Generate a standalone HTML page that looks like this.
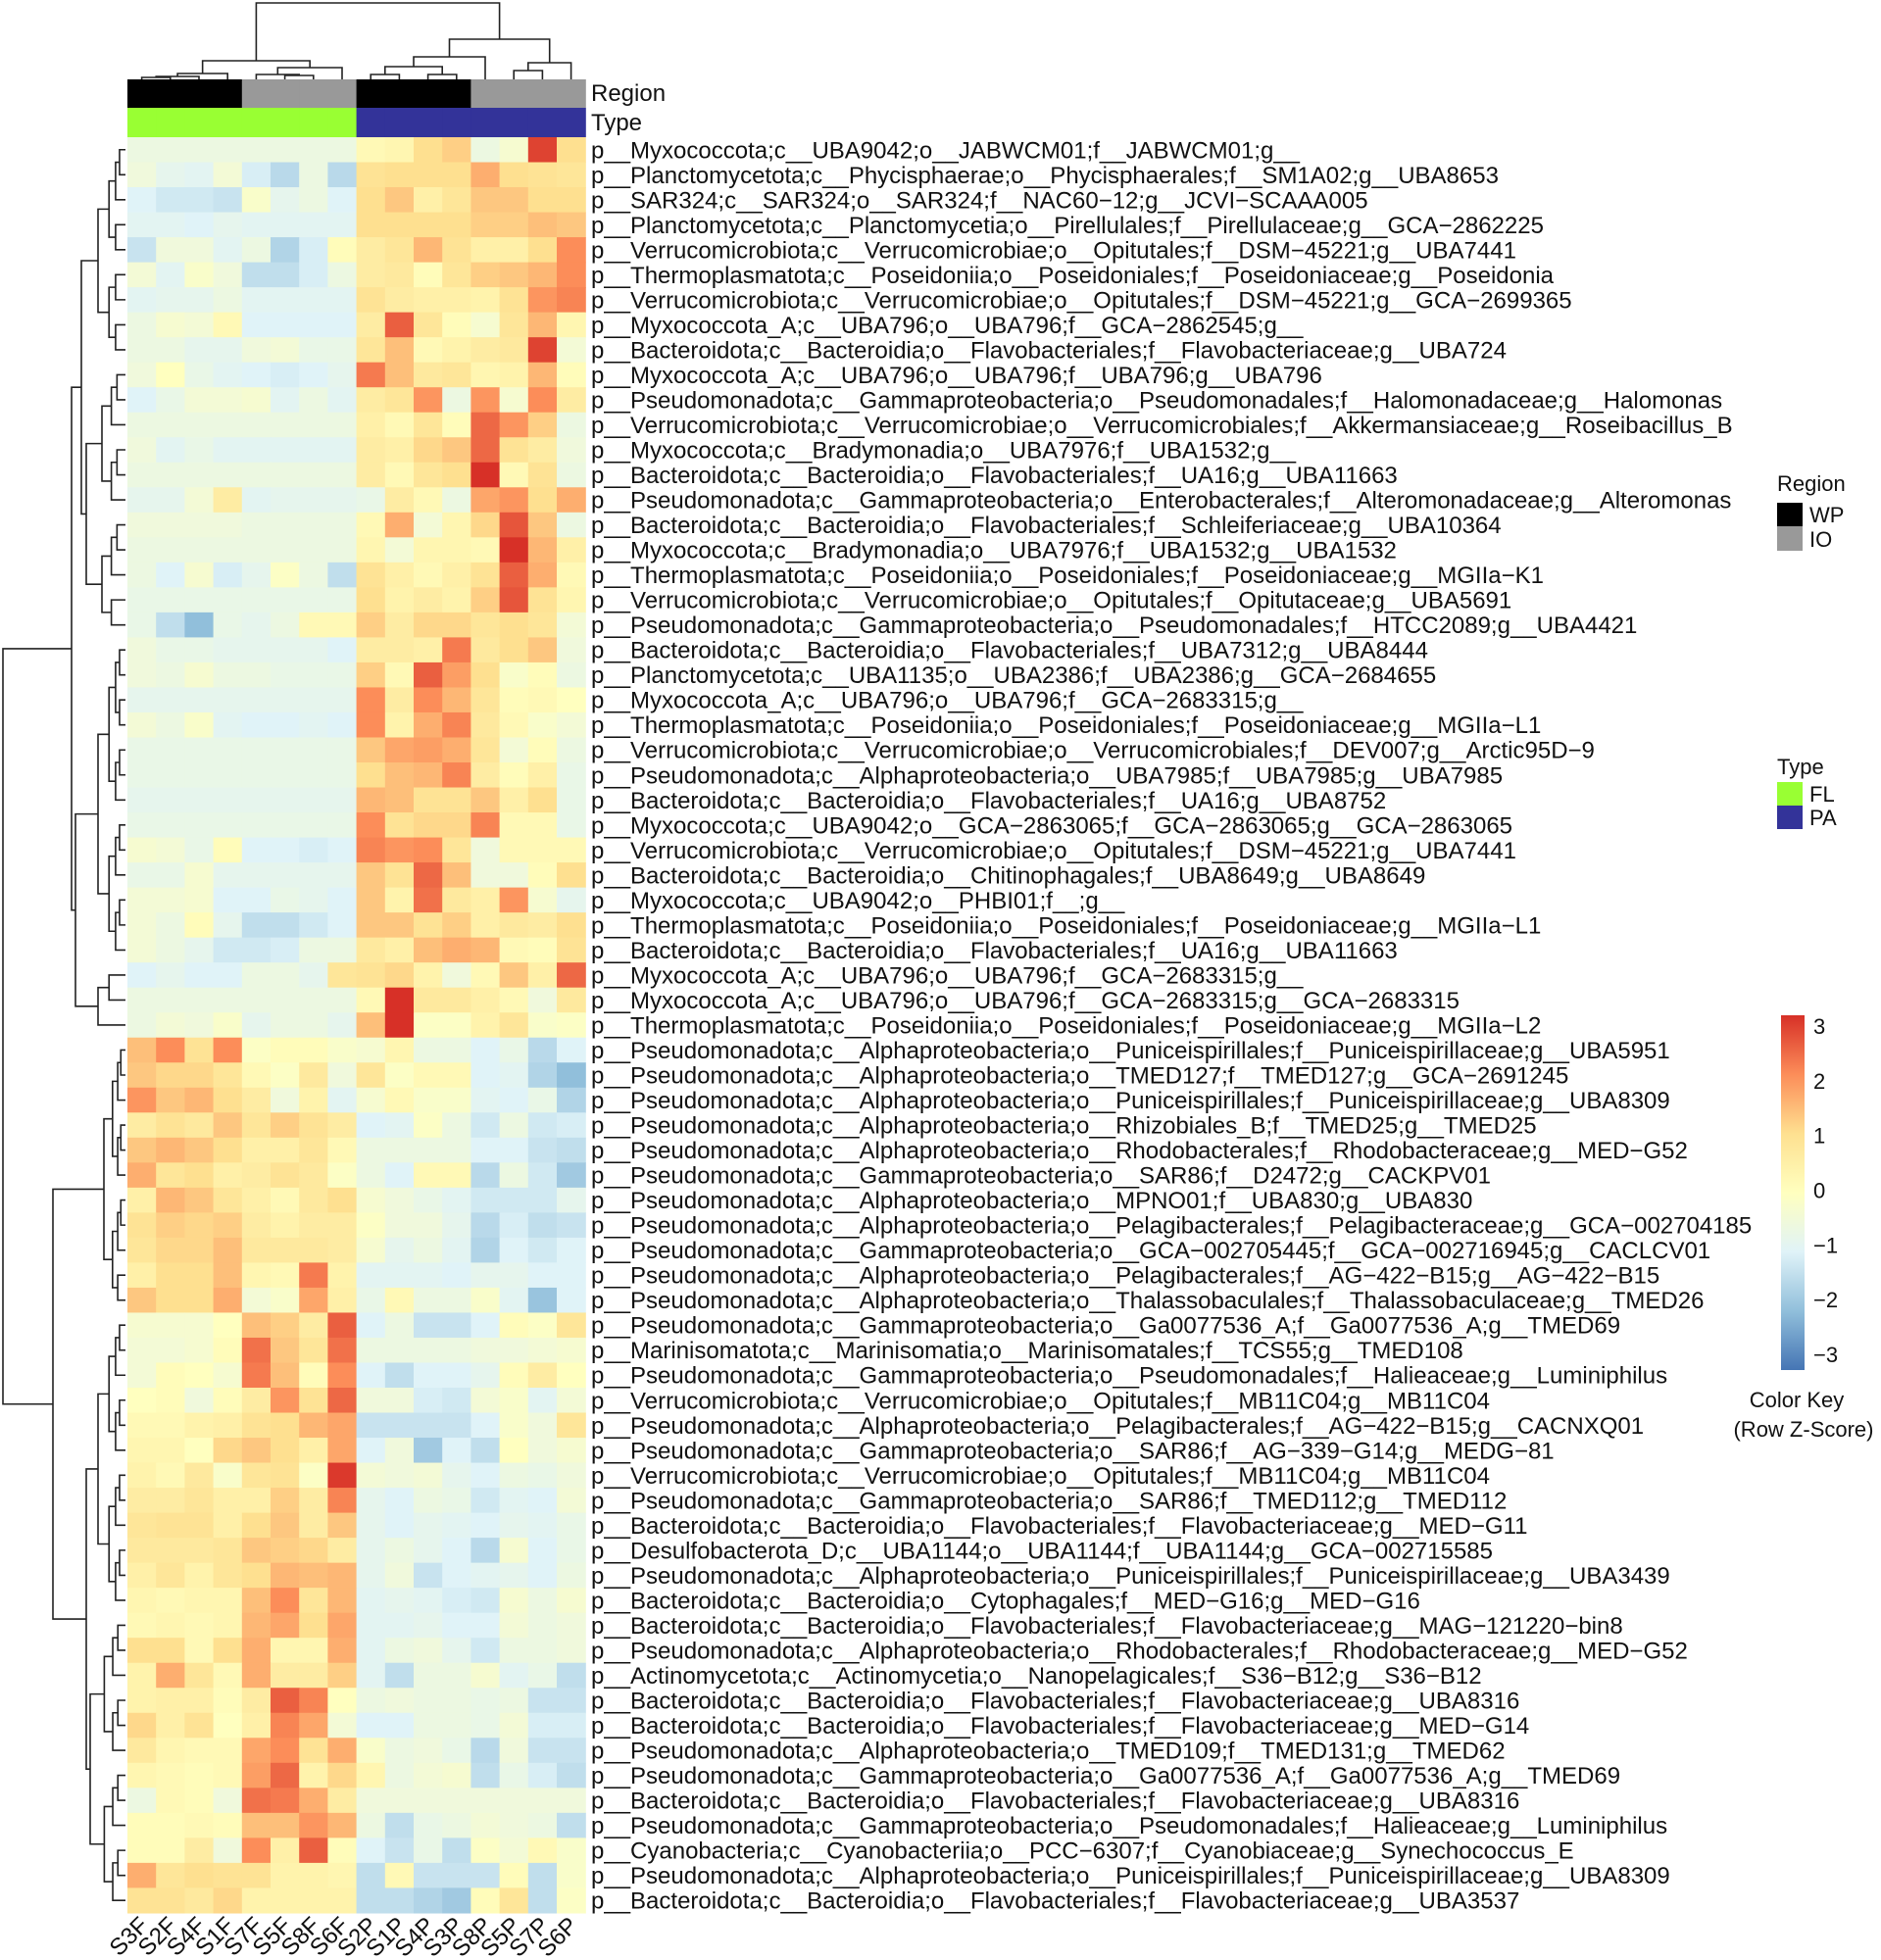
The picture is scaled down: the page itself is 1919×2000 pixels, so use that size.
<!DOCTYPE html>
<html><head><meta charset="utf-8"><style>
html,body{margin:0;padding:0;background:#fff;}
svg{display:block;font-family:"Liberation Sans",Arial,sans-serif;}
</style></head><body>
<svg id="chart" width="1919" height="2000" viewBox="0 0 1919 2000" xmlns="http://www.w3.org/2000/svg">
<g id="cells"></g>
<g id="annot"></g>
<g id="rowlabels"></g>
<g id="collabels"></g>
<g id="dendro" stroke="#222" stroke-width="1.6" fill="none"></g>
<g id="legend"></g>
</svg>
<script>
const columns=["S3F","S2F","S4F","S1F","S7F","S5F","S8F","S6F","S2P","S1P","S4P","S3P","S8P","S5P","S7P","S6P"];
const regions=["WP","WP","WP","WP","IO","IO","IO","IO","WP","WP","WP","WP","IO","IO","IO","IO"];
const types=["FL","FL","FL","FL","FL","FL","FL","FL","PA","PA","PA","PA","PA","PA","PA","PA"];
const rowLabels=[
"p__Myxococcota;c__UBA9042;o__JABWCM01;f__JABWCM01;g__",
"p__Planctomycetota;c__Phycisphaerae;o__Phycisphaerales;f__SM1A02;g__UBA8653",
"p__SAR324;c__SAR324;o__SAR324;f__NAC60−12;g__JCVI−SCAAA005",
"p__Planctomycetota;c__Planctomycetia;o__Pirellulales;f__Pirellulaceae;g__GCA−2862225",
"p__Verrucomicrobiota;c__Verrucomicrobiae;o__Opitutales;f__DSM−45221;g__UBA7441",
"p__Thermoplasmatota;c__Poseidoniia;o__Poseidoniales;f__Poseidoniaceae;g__Poseidonia",
"p__Verrucomicrobiota;c__Verrucomicrobiae;o__Opitutales;f__DSM−45221;g__GCA−2699365",
"p__Myxococcota_A;c__UBA796;o__UBA796;f__GCA−2862545;g__",
"p__Bacteroidota;c__Bacteroidia;o__Flavobacteriales;f__Flavobacteriaceae;g__UBA724",
"p__Myxococcota_A;c__UBA796;o__UBA796;f__UBA796;g__UBA796",
"p__Pseudomonadota;c__Gammaproteobacteria;o__Pseudomonadales;f__Halomonadaceae;g__Halomonas",
"p__Verrucomicrobiota;c__Verrucomicrobiae;o__Verrucomicrobiales;f__Akkermansiaceae;g__Roseibacillus_B",
"p__Myxococcota;c__Bradymonadia;o__UBA7976;f__UBA1532;g__",
"p__Bacteroidota;c__Bacteroidia;o__Flavobacteriales;f__UA16;g__UBA11663",
"p__Pseudomonadota;c__Gammaproteobacteria;o__Enterobacterales;f__Alteromonadaceae;g__Alteromonas",
"p__Bacteroidota;c__Bacteroidia;o__Flavobacteriales;f__Schleiferiaceae;g__UBA10364",
"p__Myxococcota;c__Bradymonadia;o__UBA7976;f__UBA1532;g__UBA1532",
"p__Thermoplasmatota;c__Poseidoniia;o__Poseidoniales;f__Poseidoniaceae;g__MGIIa−K1",
"p__Verrucomicrobiota;c__Verrucomicrobiae;o__Opitutales;f__Opitutaceae;g__UBA5691",
"p__Pseudomonadota;c__Gammaproteobacteria;o__Pseudomonadales;f__HTCC2089;g__UBA4421",
"p__Bacteroidota;c__Bacteroidia;o__Flavobacteriales;f__UBA7312;g__UBA8444",
"p__Planctomycetota;c__UBA1135;o__UBA2386;f__UBA2386;g__GCA−2684655",
"p__Myxococcota_A;c__UBA796;o__UBA796;f__GCA−2683315;g__",
"p__Thermoplasmatota;c__Poseidoniia;o__Poseidoniales;f__Poseidoniaceae;g__MGIIa−L1",
"p__Verrucomicrobiota;c__Verrucomicrobiae;o__Verrucomicrobiales;f__DEV007;g__Arctic95D−9",
"p__Pseudomonadota;c__Alphaproteobacteria;o__UBA7985;f__UBA7985;g__UBA7985",
"p__Bacteroidota;c__Bacteroidia;o__Flavobacteriales;f__UA16;g__UBA8752",
"p__Myxococcota;c__UBA9042;o__GCA−2863065;f__GCA−2863065;g__GCA−2863065",
"p__Verrucomicrobiota;c__Verrucomicrobiae;o__Opitutales;f__DSM−45221;g__UBA7441",
"p__Bacteroidota;c__Bacteroidia;o__Chitinophagales;f__UBA8649;g__UBA8649",
"p__Myxococcota;c__UBA9042;o__PHBI01;f__;g__",
"p__Thermoplasmatota;c__Poseidoniia;o__Poseidoniales;f__Poseidoniaceae;g__MGIIa−L1",
"p__Bacteroidota;c__Bacteroidia;o__Flavobacteriales;f__UA16;g__UBA11663",
"p__Myxococcota_A;c__UBA796;o__UBA796;f__GCA−2683315;g__",
"p__Myxococcota_A;c__UBA796;o__UBA796;f__GCA−2683315;g__GCA−2683315",
"p__Thermoplasmatota;c__Poseidoniia;o__Poseidoniales;f__Poseidoniaceae;g__MGIIa−L2",
"p__Pseudomonadota;c__Alphaproteobacteria;o__Puniceispirillales;f__Puniceispirillaceae;g__UBA5951",
"p__Pseudomonadota;c__Alphaproteobacteria;o__TMED127;f__TMED127;g__GCA−2691245",
"p__Pseudomonadota;c__Alphaproteobacteria;o__Puniceispirillales;f__Puniceispirillaceae;g__UBA8309",
"p__Pseudomonadota;c__Alphaproteobacteria;o__Rhizobiales_B;f__TMED25;g__TMED25",
"p__Pseudomonadota;c__Alphaproteobacteria;o__Rhodobacterales;f__Rhodobacteraceae;g__MED−G52",
"p__Pseudomonadota;c__Gammaproteobacteria;o__SAR86;f__D2472;g__CACKPV01",
"p__Pseudomonadota;c__Alphaproteobacteria;o__MPNO01;f__UBA830;g__UBA830",
"p__Pseudomonadota;c__Alphaproteobacteria;o__Pelagibacterales;f__Pelagibacteraceae;g__GCA−002704185",
"p__Pseudomonadota;c__Gammaproteobacteria;o__GCA−002705445;f__GCA−002716945;g__CACLCV01",
"p__Pseudomonadota;c__Alphaproteobacteria;o__Pelagibacterales;f__AG−422−B15;g__AG−422−B15",
"p__Pseudomonadota;c__Alphaproteobacteria;o__Thalassobaculales;f__Thalassobaculaceae;g__TMED26",
"p__Pseudomonadota;c__Gammaproteobacteria;o__Ga0077536_A;f__Ga0077536_A;g__TMED69",
"p__Marinisomatota;c__Marinisomatia;o__Marinisomatales;f__TCS55;g__TMED108",
"p__Pseudomonadota;c__Gammaproteobacteria;o__Pseudomonadales;f__Halieaceae;g__Luminiphilus",
"p__Verrucomicrobiota;c__Verrucomicrobiae;o__Opitutales;f__MB11C04;g__MB11C04",
"p__Pseudomonadota;c__Alphaproteobacteria;o__Pelagibacterales;f__AG−422−B15;g__CACNXQ01",
"p__Pseudomonadota;c__Gammaproteobacteria;o__SAR86;f__AG−339−G14;g__MEDG−81",
"p__Verrucomicrobiota;c__Verrucomicrobiae;o__Opitutales;f__MB11C04;g__MB11C04",
"p__Pseudomonadota;c__Gammaproteobacteria;o__SAR86;f__TMED112;g__TMED112",
"p__Bacteroidota;c__Bacteroidia;o__Flavobacteriales;f__Flavobacteriaceae;g__MED−G11",
"p__Desulfobacterota_D;c__UBA1144;o__UBA1144;f__UBA1144;g__GCA−002715585",
"p__Pseudomonadota;c__Alphaproteobacteria;o__Puniceispirillales;f__Puniceispirillaceae;g__UBA3439",
"p__Bacteroidota;c__Bacteroidia;o__Cytophagales;f__MED−G16;g__MED−G16",
"p__Bacteroidota;c__Bacteroidia;o__Flavobacteriales;f__Flavobacteriaceae;g__MAG−121220−bin8",
"p__Pseudomonadota;c__Alphaproteobacteria;o__Rhodobacterales;f__Rhodobacteraceae;g__MED−G52",
"p__Actinomycetota;c__Actinomycetia;o__Nanopelagicales;f__S36−B12;g__S36−B12",
"p__Bacteroidota;c__Bacteroidia;o__Flavobacteriales;f__Flavobacteriaceae;g__UBA8316",
"p__Bacteroidota;c__Bacteroidia;o__Flavobacteriales;f__Flavobacteriaceae;g__MED−G14",
"p__Pseudomonadota;c__Alphaproteobacteria;o__TMED109;f__TMED131;g__TMED62",
"p__Pseudomonadota;c__Gammaproteobacteria;o__Ga0077536_A;f__Ga0077536_A;g__TMED69",
"p__Bacteroidota;c__Bacteroidia;o__Flavobacteriales;f__Flavobacteriaceae;g__UBA8316",
"p__Pseudomonadota;c__Gammaproteobacteria;o__Pseudomonadales;f__Halieaceae;g__Luminiphilus",
"p__Cyanobacteria;c__Cyanobacteriia;o__PCC−6307;f__Cyanobiaceae;g__Synechococcus_E",
"p__Pseudomonadota;c__Alphaproteobacteria;o__Puniceispirillales;f__Puniceispirillaceae;g__UBA8309",
"p__Bacteroidota;c__Bacteroidia;o__Flavobacteriales;f__Flavobacteriaceae;g__UBA3537"
];
const zScores=[
[-0.6,-0.6,-0.6,-0.6,-0.6,-0.6,-0.6,-0.6,0.2,0.3,1.0,1.2,-0.6,-0.3,2.8,1.0],
[-0.5,-0.8,-0.9,-0.4,-1.1,-1.5,-0.6,-1.5,0.9,1.0,1.0,1.0,1.6,1.0,0.9,0.8],
[-1.0,-1.2,-1.2,-1.3,-0.2,-0.8,-0.6,-1.0,1.0,1.3,0.5,0.8,1.3,1.3,1.0,1.0],
[-0.9,-0.9,-1.0,-0.8,-0.9,-0.9,-0.9,-0.9,1.0,1.0,1.0,1.0,1.2,1.2,1.4,1.3],
[-1.3,-0.5,-0.5,-0.9,-0.6,-1.6,-1.1,0.1,0.6,0.8,1.5,0.9,0.5,0.5,1.0,2.0],
[-0.4,-0.9,-0.2,-0.5,-1.4,-1.4,-1.1,-0.6,0.6,0.7,0.1,0.8,1.2,1.3,1.5,2.0],
[-0.9,-0.8,-0.8,-0.6,-0.9,-0.9,-0.9,-0.9,0.9,0.6,0.5,0.5,0.4,0.9,1.9,2.1],
[-0.6,-0.3,-0.4,0.2,-1.0,-1.0,-1.0,-1.0,0.6,2.5,0.8,0.1,-0.3,0.8,1.5,0.3],
[-0.6,-0.6,-0.8,-0.8,-0.5,-0.4,-0.7,-0.7,0.8,1.4,0.2,0.4,0.6,0.7,2.8,-0.4],
[-0.5,0.0,-0.7,-0.9,-1.0,-1.1,-1.0,-0.8,2.2,1.4,0.7,0.8,0.3,0.4,1.5,0.1],
[-1.0,-0.7,-0.4,-0.4,-0.3,-0.9,-0.6,-0.9,0.6,0.8,1.9,-0.6,1.9,-0.3,2.0,0.6],
[-0.6,-0.6,-0.6,-0.6,-0.6,-0.6,-0.6,-0.6,0.5,0.2,0.8,0.1,2.4,1.9,1.2,-0.6],
[-0.5,-0.9,-0.7,-0.9,-0.9,-0.9,-0.9,-0.9,0.6,0.5,1.1,1.3,2.4,0.9,0.6,-0.5],
[-0.6,-0.6,-0.6,-0.6,-0.6,-0.6,-0.6,-0.6,0.6,0.2,0.8,1.0,3.0,0.2,0.9,-0.6],
[-0.8,-0.8,-0.4,0.6,-0.9,-0.8,-0.8,-0.8,-0.7,0.6,0.2,-0.6,1.7,1.9,1.0,1.6],
[-0.5,-0.5,-0.5,-0.5,-0.6,-0.6,-0.6,-0.6,0.2,1.6,-0.4,0.3,1.1,2.6,1.3,-0.6],
[-0.6,-0.6,-0.6,-0.6,-0.6,-0.6,-0.6,-0.6,0.3,-0.4,0.3,0.3,0.2,3.0,1.5,0.5],
[-0.6,-1.0,-0.3,-1.1,-0.8,-0.1,-0.6,-1.4,0.9,0.5,0.2,0.5,0.9,2.5,1.6,0.2],
[-0.7,-0.7,-0.7,-0.7,-0.7,-0.7,-0.7,-0.7,1.0,0.4,0.6,0.4,1.2,2.6,0.9,0.3],
[-0.7,-1.4,-2.0,-0.7,-0.8,-0.6,0.2,0.2,1.2,0.6,1.1,1.1,0.8,1.0,0.8,-0.4],
[-0.5,-0.7,-0.7,-0.8,-0.8,-0.8,-0.8,-1.0,0.6,0.6,0.5,2.2,0.7,1.0,1.3,-0.5],
[-0.5,-0.6,-0.3,-0.6,-0.6,-0.7,-0.7,-0.7,1.2,0.2,2.5,1.8,1.0,-0.2,0.1,-0.6],
[-0.8,-0.8,-0.8,-0.8,-0.8,-0.8,-0.8,-0.8,2.0,0.6,2.0,1.5,0.8,0.1,0.2,0.0],
[-0.4,-0.6,-0.2,-0.9,-1.0,-1.0,-0.9,-1.0,2.0,0.4,1.6,2.1,0.7,0.2,-0.2,-0.4],
[-0.7,-0.7,-0.7,-0.7,-0.7,-0.7,-0.7,-0.7,1.3,1.7,1.8,1.6,0.8,-0.4,0.1,-0.6],
[-0.7,-0.7,-0.7,-0.7,-0.7,-0.7,-0.7,-0.7,1.0,1.4,1.5,2.1,0.6,0.1,0.5,-0.7],
[-0.8,-0.8,-0.8,-0.8,-0.8,-0.8,-0.8,-0.8,1.5,1.4,0.9,0.9,1.3,0.5,1.0,-0.7],
[-0.7,-0.7,-0.7,-0.7,-0.7,-0.7,-0.7,-0.7,2.0,0.9,1.1,1.1,2.1,0.2,0.2,-0.7],
[-0.3,-0.4,-0.7,0.1,-1.0,-1.0,-1.1,-1.0,2.1,1.9,2.0,0.8,-0.5,0.2,0.2,0.2],
[-0.7,-0.7,-0.3,-0.8,-0.8,-0.8,-0.8,-0.8,1.3,0.9,2.4,1.4,-0.5,-0.5,0.1,1.0],
[-0.4,-0.4,-0.3,-1.0,-1.0,-0.7,-0.8,-1.0,1.3,0.4,2.3,0.7,0.5,1.9,-0.3,-0.8],
[-0.4,-0.6,0.1,-0.8,-1.4,-1.4,-1.2,-1.0,1.3,1.3,0.9,1.2,0.5,0.7,0.6,1.0],
[-0.4,-0.6,-0.8,-1.2,-1.2,-1.1,-0.6,-0.6,0.7,0.5,1.4,1.6,1.5,0.2,0.1,0.9],
[-1.0,-0.8,-1.0,-1.0,-0.6,-0.6,-0.8,0.8,0.9,1.1,0.4,-0.5,0.2,1.3,0.5,2.4],
[-0.6,-0.6,-0.6,-0.6,-0.6,-0.6,-0.6,-0.6,0.2,3.0,0.7,0.7,0.5,0.2,-0.5,0.7],
[-0.6,-0.4,-0.5,-0.2,-0.8,-0.6,-0.6,-0.8,1.4,3.0,-0.1,-0.1,0.4,0.8,-0.2,-0.1],
[1.4,2.0,0.9,2.0,-0.1,0.1,0.1,-0.2,-0.3,0.3,-0.6,-0.6,-1.0,-0.7,-1.5,-1.0],
[1.3,1.1,1.1,0.8,0.2,-0.1,0.7,-0.5,0.8,-0.1,0.2,0.2,-1.0,-0.9,-1.6,-2.0],
[1.9,1.3,1.5,1.0,0.6,-0.5,0.4,-0.9,-0.3,0.2,-0.2,-0.2,-0.9,-1.0,-0.7,-1.6],
[0.6,0.9,0.7,1.3,0.8,1.2,0.9,0.6,-1.0,-0.9,-0.1,-0.6,-1.2,-0.6,-1.2,-1.1],
[1.3,1.5,1.3,1.0,0.5,0.5,0.8,0.2,-0.6,-0.6,-0.6,-0.6,-1.0,-1.0,-1.3,-1.4],
[1.6,0.8,1.0,0.5,0.6,0.9,0.7,-0.1,-0.6,-1.0,0.2,0.2,-1.5,-0.6,-1.2,-1.8],
[0.5,1.5,1.3,0.8,0.5,0.2,0.7,1.0,-0.3,-0.5,-0.7,-0.9,-1.2,-1.2,-1.2,-0.8],
[0.9,1.2,1.1,1.2,0.6,0.4,0.6,0.6,-0.1,-0.5,-0.5,-0.8,-1.5,-1.1,-1.4,-1.3],
[0.8,1.1,1.1,1.4,0.7,0.7,0.7,0.6,-0.3,-0.8,-0.6,-0.9,-1.6,-1.0,-1.2,-1.0],
[0.5,1.0,1.0,1.4,0.3,0.2,2.2,0.4,-0.9,-0.9,-0.9,-1.0,-0.8,-0.8,-1.0,-1.0],
[1.3,1.0,1.0,1.6,-0.4,-0.2,1.7,0.5,-0.7,0.2,-0.6,-0.6,-0.2,-0.9,-1.9,-1.0],
[-0.3,-0.3,-0.3,0.0,1.4,1.2,0.6,2.5,-1.0,-0.6,-1.3,-1.3,-1.0,0.1,-0.1,0.8],
[-0.4,-0.4,-0.3,0.1,2.3,1.3,0.8,2.3,-0.6,-0.6,-0.6,-0.6,-0.5,-0.5,-0.4,-0.3],
[-0.4,0.1,0.0,-0.3,2.2,1.4,0.1,2.0,-1.0,-1.4,-1.0,-1.0,-0.8,0.1,0.6,0.0],
[0.0,0.1,-0.5,0.1,0.6,1.9,0.9,2.4,-0.5,-0.5,-1.1,-1.2,-0.4,-0.2,-0.9,-0.4],
[0.2,0.2,0.4,0.5,0.9,1.0,1.5,1.7,-1.3,-1.3,-1.3,-1.3,-1.0,-0.2,-0.5,0.8],
[0.3,0.3,0.0,1.1,1.3,1.0,0.5,1.7,-1.0,-0.5,-1.8,-1.0,-1.4,0.0,-0.5,-0.3],
[0.4,0.2,0.7,-0.2,0.8,0.9,-0.1,2.9,-0.4,-0.5,-0.4,-0.8,-1.0,-0.6,-0.7,-0.5],
[0.6,0.6,0.8,0.5,0.5,1.2,0.6,2.1,-0.8,-1.0,-0.6,-0.7,-1.2,-0.9,-1.0,-0.4],
[0.8,0.9,0.9,0.5,1.0,1.3,0.6,1.3,-0.8,-1.0,-0.8,-0.9,-1.0,-0.8,-0.9,-0.7],
[0.7,0.7,0.7,0.8,1.3,1.2,1.1,0.6,-0.8,-0.6,-0.8,-1.0,-1.5,-0.3,-1.0,-0.7],
[0.5,0.8,0.4,0.8,1.0,1.5,1.4,1.5,-0.8,-0.5,-1.3,-1.0,-0.9,-0.8,-1.0,-0.6],
[0.3,0.2,0.3,0.3,1.4,2.0,0.8,1.5,-0.9,-0.8,-0.9,-1.1,-1.2,-0.3,-0.6,-0.3],
[0.2,0.3,0.2,0.3,1.5,1.7,1.0,1.7,-0.9,-0.9,-0.8,-1.0,-1.0,-0.4,-0.6,-0.5],
[1.0,1.0,0.2,1.0,1.6,0.3,0.3,1.6,-0.9,-0.6,-0.5,-0.8,-1.2,-0.6,-0.6,-0.5],
[0.4,1.6,0.8,0.2,1.6,0.6,0.6,1.2,-0.9,-1.4,-0.6,-0.6,-0.3,-0.9,-0.7,-1.4],
[0.4,0.5,0.5,0.1,0.6,2.5,2.1,0.0,-0.6,-0.5,-0.6,-0.6,-0.7,-0.6,-1.3,-1.3],
[1.1,0.5,0.9,0.0,0.5,2.1,1.7,-0.4,-1.0,-1.0,-0.6,-0.6,-0.7,-0.4,-1.1,-1.1],
[0.7,0.3,0.2,0.2,1.7,2.0,0.9,1.6,-0.2,-0.6,-0.5,-0.7,-1.5,-0.5,-1.3,-1.3],
[0.3,0.2,0.1,0.2,1.8,2.4,0.4,1.1,0.3,-0.6,-0.4,-0.3,-1.4,-0.7,-1.1,-1.4],
[-0.6,0.2,0.1,-0.5,2.3,2.2,1.6,0.6,-0.5,-0.5,-0.5,-0.5,-0.5,-0.5,-0.5,-0.5],
[0.1,0.1,0.2,0.1,1.4,1.4,1.9,1.5,-0.6,-1.4,-0.7,-0.6,-0.4,-0.5,-0.6,-1.4],
[0.1,0.1,0.6,-0.5,2.0,0.5,2.5,0.1,-1.0,-1.3,-0.7,-1.4,-0.1,-0.4,0.2,-0.2],
[1.6,0.8,1.0,0.9,0.9,0.4,0.4,0.3,-1.4,0.2,-1.3,-1.3,-1.3,0.1,-1.4,-0.2],
[0.9,0.9,0.7,1.1,0.4,0.4,0.4,0.4,-1.4,-1.4,-1.6,-1.8,0.1,0.8,-1.4,-0.1]
];
const keyTicks=[3,2,1,0,-1,-2,-3];

const NS="http://www.w3.org/2000/svg";
const X0=130,CW=29.2,Y0=140,RH=25.52;
const colX=i=>X0+CW*i;
const rowY=r=>Y0+RH*r;
const stops=[[-3,[69,117,180]],[-2,[145,191,219]],[-1,[224,243,248]],[0,[255,255,191]],[1,[254,224,144]],[2,[252,141,89]],[3,[215,48,39]]];
function color(v){v=Math.max(-3,Math.min(3,v));for(let i=0;i<stops.length-1;i++){const a=stops[i],b=stops[i+1];if(v<=b[0]){const t=(v-a[0])/(b[0]-a[0]);const c=a[1].map((x,k)=>Math.round(x+(b[1][k]-x)*t));return `rgb(${c})`;}}return "rgb(215,48,39)";}
function mk(tag,attrs,parent){const e=document.createElementNS(NS,tag);for(const k in attrs)e.setAttribute(k,attrs[k]);parent.appendChild(e);return e;}

const gc=document.getElementById('cells');
zScores.forEach((row,r)=>row.forEach((v,c)=>{
  const e=mk('rect',{x:colX(c),y:rowY(r),width:CW+0.6,height:RH+0.6,fill:color(v)},gc);
  
  
}));
const ga=document.getElementById('annot');
regions.forEach((g,c)=>{
  const e=mk('rect',{x:colX(c),y:81,width:CW+0.6,height:29,fill:g==="WP"?"#000":"#999"},ga);
  
  
});
types.forEach((g,c)=>{
  const e=mk('rect',{x:colX(c),y:110,width:CW+0.6,height:30,fill:g==="FL"?"#99ff33":"#333399"},ga);
  
  
});
const gl=document.getElementById('rowlabels');
[["Region",95],["Type",125]].forEach(([t,y])=>{
  const e=mk('text',{x:603,y:y+8,'font-size':24,fill:'#111'},gl);e.textContent=t;
  
  
});
rowLabels.forEach((t,r)=>{
  const e=mk('text',{x:603,y:rowY(r)+RH/2+8.5,'font-size':24,fill:'#111'},gl);e.textContent=t;
  
  
});
const gcl=document.getElementById('collabels');
columns.forEach((t,c)=>{
  const cx=colX(c)+CW/2+8,cy=1966;
  const e=mk('text',{x:cx,y:cy,'font-size':24,fill:'#111','text-anchor':'end',transform:`rotate(-45 ${cx} ${cy})`},gcl);e.textContent=t;
  
  
});

const gd=document.getElementById('dendro');
function seg(d){const e=mk('path',{d:d},gd);}
const colTree=[3,[62,[75,[78,[79,0,1],2],3],[69,[76,4,[77,5,6]],7]],[40,[58,[68,[76,8,9],[76,10,11]],12],[64,[72,13,14],15]]];
function drawCol(n){if(typeof n==="number")return {x:colX(n)+CW/2,y:81};const l=drawCol(n[1]),r=drawCol(n[2]);const h=n[0];
  seg(`M${l.x},${l.y}V${h}H${r.x}V${r.y}`);return {x:(l.x+r.x)/2,y:h};}
drawCol(colTree);
function rng(a,b,h){return {a,b,h};}
const rowTree=[3,[73,[83,rng(0,8,100),rng(9,19,88)],[77,rng(20,32,100),rng(33,35,100)]],[54,rng(36,46,106),[88,rng(47,58,100),rng(59,70,92)]]];
function drawRange(a,b,h){if(a===b)return {x:128,y:rowY(a)+RH/2};const m=Math.floor((a+b)/2);const h2=h+(128-h)*0.4;
  const l=drawRange(a,m,h2),r=drawRange(m+1,b,h2);seg(`M${l.x},${l.y}H${h}V${r.y}H${r.x}`);return {x:h,y:(l.y+r.y)/2};}
function drawRow(n){if(n.a!==undefined)return drawRange(n.a,n.b,n.h);const l=drawRow(n[1]),r=drawRow(n[2]);const h=n[0];
  seg(`M${l.x},${l.y}H${h}V${r.y}H${r.x}`);return {x:h,y:(l.y+r.y)/2};}
drawRow(rowTree);

const lg=document.getElementById('legend');
function txt(t,x,y,name,extra){const e=mk('text',Object.assign({x:x,y:y,'font-size':22,fill:'#111'},extra||{}),lg);e.textContent=t;return e;}
function box(x,y,w,h,f,name){const e=mk('rect',{x:x,y:y,width:w,height:h,fill:f},lg);}
txt("Region",1813,501,'region-legend-title');
box(1813,513,26,24,'#000','legend-swatch-wp');txt("WP",1846,533,'legend-label-wp');
box(1813,537,26,25,'#999','legend-swatch-io');txt("IO",1846,558,'legend-label-io');
txt("Type",1813,790,'type-legend-title');
box(1813,798,26,24,'#99ff33','legend-swatch-fl');txt("FL",1846,818,'legend-label-fl');
box(1813,822,26,24,'#333399','legend-swatch-pa');txt("PA",1846,842,'legend-label-pa');
const defs=mk('defs',{},lg);const grad=mk('linearGradient',{id:'kg',x1:0,y1:1,x2:0,y2:0},defs);
stops.forEach(s=>mk('stop',{offset:(s[0]+3)/6,'stop-color':color(s[0])},grad));
const kTop=1036,kBot=1398,tTop=1047,tBot=1382;
box(1817,kTop,24,kBot-kTop,'url(#kg)','color-key-bar');
keyTicks.forEach(v=>{const y=tTop+(3-v)/6*(tBot-tTop);txt(v<0?"−"+(-v):String(v),1850,y+8,'color-key-tick');});
txt("Color Key",1833,1436,'color-key-title',{'text-anchor':'middle'});
txt("(Row Z-Score)",1840,1466,'color-key-subtitle',{'text-anchor':'middle'});
</script>
</body></html>
